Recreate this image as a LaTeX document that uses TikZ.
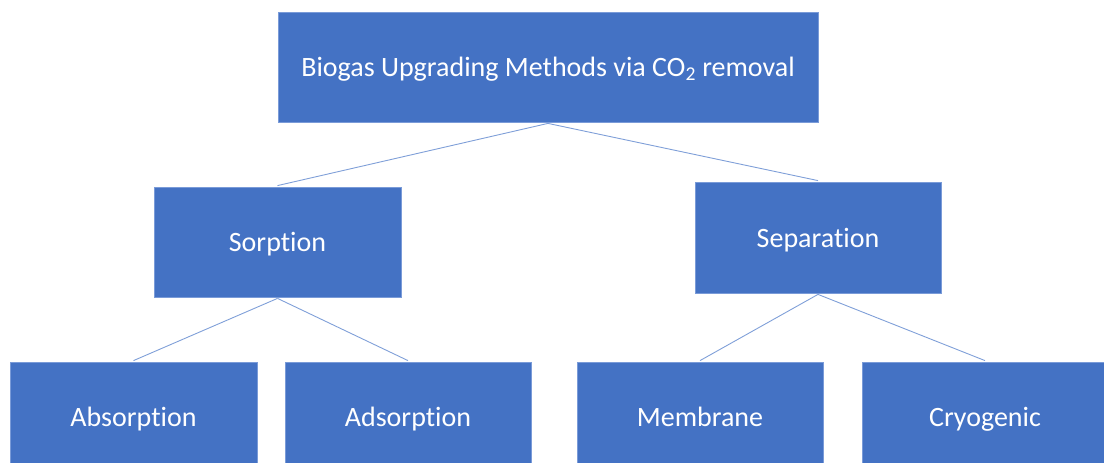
\documentclass[tikz,border=0pt]{standalone}
\usepackage{fontspec}
\setmainfont[Ligatures={NoCommon}]{Carlito}
\definecolor{boxblue}{HTML}{4472C4}
\definecolor{boxedge}{HTML}{7A9BD8}
\definecolor{linkblue}{HTML}{7F9FD8}
\begin{document}
\begin{tikzpicture}[x=1pt,y=-1pt,
  catbox/.style={rectangle, fill=boxblue, draw=boxedge, line width=0.8pt, text=white,
    font=\fontsize{28}{32}\selectfont, inner sep=0pt, text height=20pt, text depth=1pt},
  link/.style={draw=linkblue, line width=0.9pt}]
\useasboundingbox (0,0) rectangle (1104,463);
\clip (0,0) rectangle (1104,463);
\node[catbox, minimum width=540, minimum height=110] (top) at (548,67) {Biogas Upgrading Methods via CO\textsubscript{2} removal};
\node[catbox, minimum width=247, minimum height=110] (sorp) at (277.5,242) {Sorption};
\node[catbox, minimum width=246, minimum height=111] (sep) at (818,237.5) {Separation};
\node[catbox, minimum width=247, minimum height=110] (abs) at (133.5,417) {Absorption};
\node[catbox, minimum width=246, minimum height=110] (ads) at (408,417) {Adsorption};
\node[catbox, minimum width=246, minimum height=110] (mem) at (700,417) {Membrane};
\node[catbox, minimum width=246, minimum height=110] (cry) at (985,417) {Cryogenic};
\draw[link] ([yshift=-1]top.south) -- ([yshift=1]sorp.north);
\draw[link] ([yshift=-1]top.south) -- ([yshift=1]sep.north);
\draw[link] ([yshift=-1]sorp.south) -- ([yshift=1]abs.north);
\draw[link] ([yshift=-1]sorp.south) -- ([yshift=1]ads.north);
\draw[link] ([yshift=-1]sep.south) -- ([yshift=1]mem.north);
\draw[link] ([yshift=-1]sep.south) -- ([yshift=1]cry.north);
\end{tikzpicture}
\end{document}
